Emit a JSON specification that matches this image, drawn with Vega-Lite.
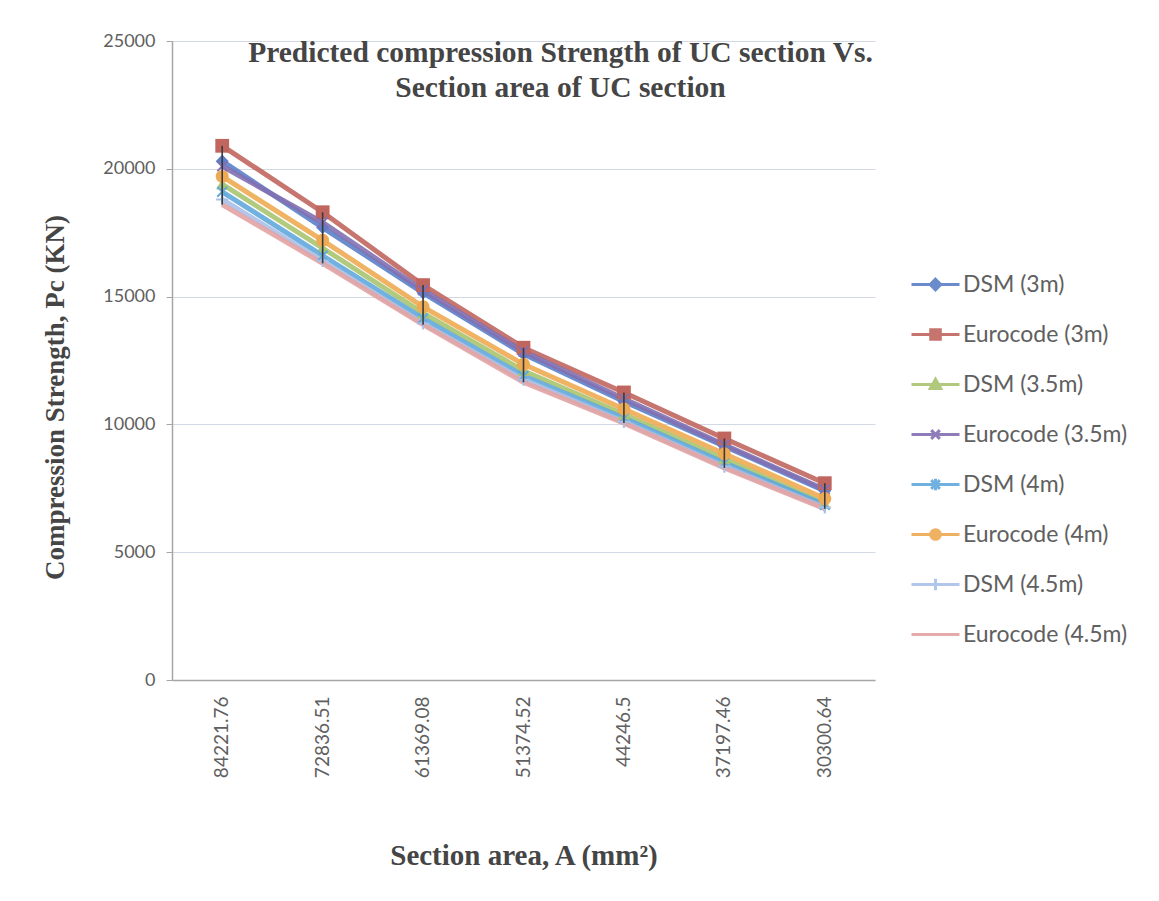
{
  "$schema": "https://vega.github.io/schema/vega-lite/v6.json",
  "autosize": {"type": "none"},
  "width": 703,
  "height": 639,
  "padding": {"left": 172, "top": 41, "right": 284, "bottom": 221},
  "background": "#ffffff",
  "title": {
    "text": ["Predicted compression Strength of UC section Vs.", "Section area of UC section"],
    "font": "Liberation Serif",
    "fontWeight": "bold",
    "fontSize": 29.5,
    "color": "#454545",
    "anchor": "middle",
    "dx": 37,
    "offset": -71,
    "lineHeight": 35
  },
  "data": {
    "values": [
      {"area": "84221.76", "series": "DSM (3m)", "pc": 20300},
      {"area": "72836.51", "series": "DSM (3m)", "pc": 17700},
      {"area": "61369.08", "series": "DSM (3m)", "pc": 15150},
      {"area": "51374.52", "series": "DSM (3m)", "pc": 12750},
      {"area": "44246.5", "series": "DSM (3m)", "pc": 10900},
      {"area": "37197.46", "series": "DSM (3m)", "pc": 9150},
      {"area": "30300.64", "series": "DSM (3m)", "pc": 7400},
      {"area": "84221.76", "series": "Eurocode (3m)", "pc": 20900},
      {"area": "72836.51", "series": "Eurocode (3m)", "pc": 18300},
      {"area": "61369.08", "series": "Eurocode (3m)", "pc": 15450},
      {"area": "51374.52", "series": "Eurocode (3m)", "pc": 13000},
      {"area": "44246.5", "series": "Eurocode (3m)", "pc": 11250},
      {"area": "37197.46", "series": "Eurocode (3m)", "pc": 9450},
      {"area": "30300.64", "series": "Eurocode (3m)", "pc": 7700},
      {"area": "84221.76", "series": "DSM (3.5m)", "pc": 19400},
      {"area": "72836.51", "series": "DSM (3.5m)", "pc": 16900},
      {"area": "61369.08", "series": "DSM (3.5m)", "pc": 14350},
      {"area": "51374.52", "series": "DSM (3.5m)", "pc": 12100},
      {"area": "44246.5", "series": "DSM (3.5m)", "pc": 10400},
      {"area": "37197.46", "series": "DSM (3.5m)", "pc": 8650},
      {"area": "30300.64", "series": "DSM (3.5m)", "pc": 6900},
      {"area": "84221.76", "series": "Eurocode (3.5m)", "pc": 20100},
      {"area": "72836.51", "series": "Eurocode (3.5m)", "pc": 17900},
      {"area": "61369.08", "series": "Eurocode (3.5m)", "pc": 15250},
      {"area": "51374.52", "series": "Eurocode (3.5m)", "pc": 12850},
      {"area": "44246.5", "series": "Eurocode (3.5m)", "pc": 11000},
      {"area": "37197.46", "series": "Eurocode (3.5m)", "pc": 9200},
      {"area": "30300.64", "series": "Eurocode (3.5m)", "pc": 7450},
      {"area": "84221.76", "series": "DSM (4m)", "pc": 19100},
      {"area": "72836.51", "series": "DSM (4m)", "pc": 16600},
      {"area": "61369.08", "series": "DSM (4m)", "pc": 14150},
      {"area": "51374.52", "series": "DSM (4m)", "pc": 11900},
      {"area": "44246.5", "series": "DSM (4m)", "pc": 10250},
      {"area": "37197.46", "series": "DSM (4m)", "pc": 8500},
      {"area": "30300.64", "series": "DSM (4m)", "pc": 6850},
      {"area": "84221.76", "series": "Eurocode (4m)", "pc": 19700},
      {"area": "72836.51", "series": "Eurocode (4m)", "pc": 17200},
      {"area": "61369.08", "series": "Eurocode (4m)", "pc": 14600},
      {"area": "51374.52", "series": "Eurocode (4m)", "pc": 12350},
      {"area": "44246.5", "series": "Eurocode (4m)", "pc": 10600},
      {"area": "37197.46", "series": "Eurocode (4m)", "pc": 8850},
      {"area": "30300.64", "series": "Eurocode (4m)", "pc": 7100},
      {"area": "84221.76", "series": "DSM (4.5m)", "pc": 18800},
      {"area": "72836.51", "series": "DSM (4.5m)", "pc": 16400},
      {"area": "61369.08", "series": "DSM (4.5m)", "pc": 13950},
      {"area": "51374.52", "series": "DSM (4.5m)", "pc": 11750},
      {"area": "44246.5", "series": "DSM (4.5m)", "pc": 10100},
      {"area": "37197.46", "series": "DSM (4.5m)", "pc": 8350},
      {"area": "30300.64", "series": "DSM (4.5m)", "pc": 6750},
      {"area": "84221.76", "series": "Eurocode (4.5m)", "pc": 18600},
      {"area": "72836.51", "series": "Eurocode (4.5m)", "pc": 16300},
      {"area": "61369.08", "series": "Eurocode (4.5m)", "pc": 13900},
      {"area": "51374.52", "series": "Eurocode (4.5m)", "pc": 11650},
      {"area": "44246.5", "series": "Eurocode (4.5m)", "pc": 10050},
      {"area": "37197.46", "series": "Eurocode (4.5m)", "pc": 8300},
      {"area": "30300.64", "series": "Eurocode (4.5m)", "pc": 6700}
    ]
  },
  "encoding": {
    "x": {
      "field": "area",
      "type": "ordinal",
      "sort": ["84221.76", "72836.51", "61369.08", "51374.52", "44246.5", "37197.46", "30300.64"],
      "title": "Section area, A (mm²)",
      "axis": {
        "labelAngle": -90,
        "labelFont": "Lato",
        "labelFontSize": 19,
        "labelColor": "#606060",
        "labelPadding": 16,
        "ticks": false,
        "domainColor": "#a6a6a6",
        "domainWidth": 1.5,
        "titleFont": "Liberation Serif",
        "titleFontWeight": "bold",
        "titleFontSize": 29,
        "titleColor": "#454545",
        "titleBaseline": "middle",
        "titleY": 175,
        "grid": false
      }
    },
    "y": {
      "field": "pc",
      "type": "quantitative",
      "scale": {"domain": [0, 25000], "nice": false},
      "title": "Compression Strength, Pc (KN)",
      "axis": {
        "values": [0, 5000, 10000, 15000, 20000, 25000],
        "format": "d",
        "labelFont": "Lato",
        "labelFontSize": 18,
        "labelColor": "#606060",
        "labelPadding": 11,
        "tickSize": 6,
        "tickColor": "#a6a6a6",
        "domainColor": "#a6a6a6",
        "domainWidth": 1.5,
        "gridColor": "#d3d8e6",
        "gridWidth": 1.2,
        "titleFont": "Liberation Serif",
        "titleFontWeight": "bold",
        "titleFontSize": 27,
        "titleColor": "#454545",
        "titleBaseline": "middle",
        "titleX": -117,
        "titleY": 356
      }
    }
  },
  "layer": [
    {
      "mark": {"type": "line", "strokeWidth": 5, "opacity": 0.9},
      "encoding": {
        "color": {
          "field": "series",
          "type": "nominal",
          "sort": null,
          "scale": {
            "domain": ["DSM (3m)", "Eurocode (3m)", "DSM (3.5m)", "Eurocode (3.5m)", "DSM (4m)", "Eurocode (4m)", "DSM (4.5m)", "Eurocode (4.5m)"],
            "range": ["#5b7fc8", "#c0665f", "#a9c46f", "#8270b2", "#62a9dc", "#eeaa52", "#a9c0e8", "#e3a3a3"]
          },
          "legend": {
            "title": null,
            "orient": "none",
            "legendX": 738,
            "legendY": 218,
            "symbolSize": 2304,
            "symbolStrokeWidth": 3,
            "rowPadding": 12,
            "labelFont": "Lato",
            "labelFontSize": 23,
            "labelLimit": 300,
            "labelColor": "#606060",
            "labelOffset": 2
          }
        }
      }
    },
    {
      "mark": {"type": "point", "filled": true, "size": 0, "opacity": 1, "strokeWidth": 3},
      "encoding": {
        "color": {"field": "series", "type": "nominal", "sort": null, "legend": null},
        "stroke": {
          "field": "series",
          "type": "nominal",
          "scale": {
            "domain": ["DSM (3m)", "Eurocode (3m)", "DSM (3.5m)", "Eurocode (3.5m)", "DSM (4m)", "Eurocode (4m)", "DSM (4.5m)", "Eurocode (4.5m)"],
            "range": ["#5b7fc8", "#c0665f", "#a9c46f", "#8270b2", "#62a9dc", "#eeaa52", "#a9c0e8", "#e3a3a3"]
          },
          "legend": null
        },
        "shape": {
          "field": "series",
          "type": "nominal",
          "scale": {
            "domain": ["DSM (3m)", "Eurocode (3m)", "DSM (3.5m)", "Eurocode (3.5m)", "DSM (4m)", "Eurocode (4m)", "DSM (4.5m)", "Eurocode (4.5m)"],
            "range": [
              "M-1,0H1M0,-0.22L0.22,0L0,0.22L-0.22,0Z",
              "M-1,0H1M-0.2,-0.2H0.2V0.2H-0.2Z",
              "M-1,0H1M0,-0.22L0.22,0.17H-0.22Z",
              "M-1,0H1M-0.18,-0.18L0.18,0.18M0.18,-0.18L-0.18,0.18",
              "M-1,0H1M-0.18,-0.18L0.18,0.18M0.18,-0.18L-0.18,0.18M0,-0.24V0.24",
              "M-1,0H1M-0.2,0A0.2,0.2 0 1,0 0.2,0A0.2,0.2 0 1,0 -0.2,0Z",
              "M-1,0H1M0,-0.24V0.24",
              "M-1,0H1"
            ]
          },
          "legend": null
        }
      }
    },
    {
      "transform": [{"filter": "datum.series === 'DSM (3m)'"}],
      "mark": {"type": "point", "shape": "diamond", "filled": true, "color": "#5b7fc8", "size": 170, "opacity": 1}
    },
    {
      "transform": [{"filter": "datum.series === 'Eurocode (3m)'"}],
      "mark": {"type": "point", "shape": "square", "filled": true, "color": "#c0665f", "size": 190, "opacity": 1}
    },
    {
      "transform": [{"filter": "datum.series === 'DSM (3.5m)'"}],
      "mark": {"type": "point", "shape": "triangle-up", "filled": true, "color": "#a9c46f", "size": 150, "opacity": 1}
    },
    {
      "transform": [{"filter": "datum.series === 'Eurocode (3.5m)'"}],
      "mark": {"type": "point", "shape": "M-0.8,-0.8L0.8,0.8M0.8,-0.8L-0.8,0.8", "filled": false, "color": "#8270b2", "strokeWidth": 2, "size": 150, "opacity": 1}
    },
    {
      "transform": [{"filter": "datum.series === 'DSM (4m)'"}],
      "mark": {"type": "point", "shape": "M-0.8,-0.8L0.8,0.8M0.8,-0.8L-0.8,0.8M0,-1.1V1.1", "filled": false, "color": "#62a9dc", "strokeWidth": 2, "size": 150, "opacity": 1}
    },
    {
      "transform": [{"filter": "datum.series === 'Eurocode (4m)'"}],
      "mark": {"type": "point", "shape": "circle", "filled": true, "color": "#eeaa52", "size": 170, "opacity": 1}
    },
    {
      "transform": [{"filter": "datum.series === 'DSM (4.5m)'"}],
      "mark": {"type": "point", "shape": "M-1,0H1M0,-1V1", "filled": false, "color": "#a9c0e8", "strokeWidth": 2, "size": 150, "opacity": 1}
    },
    {
      "mark": {"type": "rule", "color": "#3a3a3a", "strokeWidth": 1.6},
      "encoding": {
        "y": {"field": "pc", "type": "quantitative", "aggregate": "min"},
        "y2": {"field": "pc", "aggregate": "max"}
      }
    }
  ],
  "config": {
    "view": {"stroke": null}
  }
}
